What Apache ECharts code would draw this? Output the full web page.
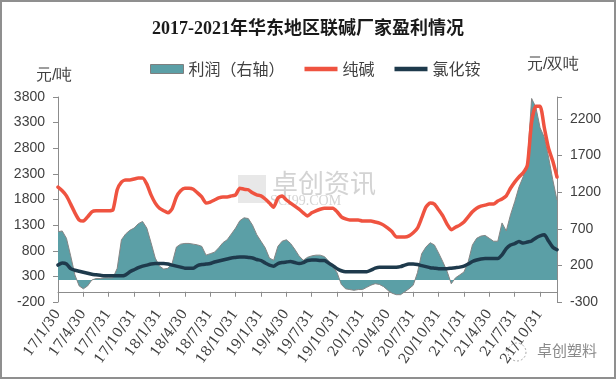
<!DOCTYPE html>
<html>
<head>
<meta charset="utf-8">
<script src="https://cdn.jsdelivr.net/npm/echarts@6/dist/echarts.min.js"></script>
<style>
html,body{margin:0;padding:0;background:#fff;}
#c{width:616px;height:379px;}
</style>
</head>
<body>
<div id="c"></div>
<script>
const categories = [
'17/1/30','17/2/15','17/2/28','17/3/15','17/3/31','17/4/15','17/4/30','17/5/15','17/5/31','17/6/15','17/6/30','17/7/15','17/7/31','17/8/15','17/8/31','17/9/15','17/9/30','17/10/15','17/10/31','17/11/15','17/11/30','17/12/15','17/12/31',
'18/1/15','18/1/31','18/2/15','18/2/28','18/3/15','18/3/31','18/4/15','18/4/30','18/5/15','18/5/31','18/6/15','18/6/30','18/7/15','18/7/31','18/8/15','18/8/31','18/9/15','18/9/30','18/10/15','18/10/31','18/11/15','18/11/30','18/12/15','18/12/31',
'19/1/15','19/1/31','19/2/15','19/2/28','19/3/15','19/3/31','19/4/15','19/4/30','19/5/15','19/5/31','19/6/15','19/6/30','19/7/15','19/7/31','19/8/15','19/8/31','19/9/15','19/9/30','19/10/15','19/10/31','19/11/15','19/11/30','19/12/15','19/12/31',
'20/1/15','20/1/31','20/2/15','20/2/29','20/3/15','20/3/31','20/4/15','20/4/30','20/5/15','20/5/31','20/6/15','20/6/30','20/7/15','20/7/31','20/8/15','20/8/31','20/9/15','20/9/30','20/10/15','20/10/31','20/11/15','20/11/30','20/12/15','20/12/31',
'21/1/15','21/1/31','21/2/15','21/2/28','21/3/15','21/3/31','21/4/15','21/4/30','21/5/15','21/5/31','21/6/15','21/6/30','21/7/15','21/7/31','21/8/15','21/8/31','21/9/15','21/9/30','21/10/15','21/10/31','21/11/15','21/11/30','21/12/15','21/12/31'
];

const tickLabels = ['17/1/30','17/4/30','17/7/31','17/10/31','18/1/31','18/4/30','18/7/31','18/10/31','19/1/31','19/4/30','19/7/31','19/10/31','20/1/31','20/4/30','20/7/31','20/10/31','21/1/31','21/4/30','21/7/31','21/10/31'];

// 利润（右轴） 元/双吨
const profit = [
660,670,570,330,70,-80,-120,-80,0,20,20,30,30,30,
160,550,630,680,710,770,800,710,510,300,190,150,160,230,
450,490,500,500,490,480,460,340,360,380,440,510,550,630,
710,810,850,840,750,620,530,440,300,270,460,530,550,500,
420,330,270,310,330,340,340,320,260,180,100,-60,-120,-130,
-140,-130,-130,-100,-70,-50,-60,-90,-140,-180,-200,-200,-160,-120,
-70,100,360,450,510,480,370,250,120,-50,30,70,110,250,
480,570,600,610,570,530,530,780,670,890,1070,1270,1410,1610,
2480,2360,2080,1950,1680,1370,1090
];

// 纯碱 元/吨
const soda = [
2040,1970,1870,1710,1540,1400,1380,1460,1560,1580,1580,1580,1580,1600,
1990,2140,2180,2180,2200,2220,2220,2100,1890,1730,1630,1580,1540,1620,
1850,1970,2020,2020,2000,1930,1850,1730,1750,1790,1830,1850,1850,1870,
1890,2020,2000,1990,1930,1890,1870,1810,1730,1650,1830,1870,1790,1730,
1670,1610,1540,1480,1540,1580,1610,1630,1630,1630,1560,1460,1420,1400,
1400,1400,1380,1380,1380,1360,1340,1300,1240,1170,1070,1070,1070,1090,
1150,1240,1440,1650,1730,1710,1600,1480,1320,1210,1260,1300,1360,1460,
1560,1630,1670,1690,1710,1710,1770,1810,1870,2020,2140,2240,2320,2470,
3310,3620,3620,3200,2800,2550,2240
];

// 氯化铵 元/吨
const chloride = [
520,560,540,450,420,400,380,360,340,330,320,310,310,310,
310,310,330,390,430,470,500,520,540,550,550,550,540,520,
500,480,460,460,460,510,530,540,550,580,600,620,640,660,
670,680,680,670,660,630,610,560,520,500,550,570,580,590,
570,550,570,610,620,620,610,610,560,510,450,410,390,390,
390,390,390,390,420,460,480,480,480,480,480,490,520,540,
540,530,510,490,470,460,450,450,450,460,470,480,500,540,
590,620,640,650,650,650,650,720,840,910,940,980,950,970,
990,1050,1090,1110,990,870,820
];

const tickSet = new Set(tickLabels);
const showTick = (i, v) => tickSet.has(v);
const axisGray = '#8c8c8c';
const txt = '#404040';
const cjk = '"Noto Sans CJK SC", sans-serif';

const chart = echarts.init(document.getElementById('c'), null, {renderer: 'canvas'});
chart.setOption({
  animation: false,
  backgroundColor: '#ffffff',
  title: {
    text: '2017-2021年华东地区联碱厂家盈利情况',
    left: 'center',
    top: 15,
    textStyle: {fontSize: 18, fontWeight: 'bold', color: '#1a1a1a', fontFamily: '"Liberation Serif", "Noto Sans CJK SC", serif'}
  },
  legend: {
    left: 145,
    top: 56,
    itemGap: 20,
    itemWidth: 33,
    itemHeight: 9,
    textStyle: {fontSize: 16, color: txt, fontFamily: cjk},
    data: [
      {name: '利润（右轴）', icon: 'rect', itemStyle: {color: '#5b9fa6', borderColor: '#7f7f7f', borderWidth: 1}},
      {name: '纯碱', icon: 'path://M0,0 L33,0 L33,4.5 L0,4.5 Z', itemStyle: {color: '#ef5340', borderWidth: 0}},
      {name: '氯化铵', icon: 'path://M0,0 L33,0 L33,4.5 L0,4.5 Z', itemStyle: {color: '#1e3a4c', borderWidth: 0}}
    ]
  },
  grid: {left: 58, right: 59, top: 97, bottom: 77, containLabel: false},
  xAxis: {
    type: 'category',
    data: categories,
    boundaryGap: false,
    axisLine: {onZero: true, onZeroAxisIndex: 0, lineStyle: {color: axisGray, width: 1}},
    axisTick: {show: true, interval: showTick, length: 5, lineStyle: {color: axisGray}},
    axisLabel: {interval: showTick, rotate: 55, margin: 9, fontSize: 14, color: txt, fontFamily: '"DejaVu Serif", serif'},
    splitLine: {show: false}
  },
  yAxis: [
    {
      type: 'value', position: 'left', min: -200, max: 3800, interval: 500,
      axisLine: {show: true, lineStyle: {color: axisGray}},
      axisTick: {show: true, length: 5, lineStyle: {color: axisGray}},
      axisLabel: {fontSize: 14, color: txt, margin: 13, fontFamily: '"Liberation Sans", Arial, sans-serif',
        formatter: v => String(v)},
      splitLine: {show: false}
    },
    {
      type: 'value', position: 'right', min: -300, max: 2500, interval: 500,
      axisLine: {show: true, lineStyle: {color: axisGray}},
      axisTick: {show: true, length: 5, lineStyle: {color: axisGray}},
      axisLabel: {fontSize: 14, color: txt, margin: 13, fontFamily: '"Liberation Sans", Arial, sans-serif',
        formatter: v => (v === 2500 ? '' : String(v))},
      splitLine: {show: false}
    }
  ],
  graphic: [
    {type: 'rect', shape: {x: 1, y: 1, width: 614, height: 377}, style: {fill: 'none', stroke: '#8f8f8f', lineWidth: 2}, silent: true, z: 100},
    {type: 'text', left: 36, top: 68, style: {text: '元/吨', fontSize: 16, fill: txt, font: '16px "Noto Sans CJK SC"'}},
    {type: 'text', left: 527, top: 57, style: {text: '元/双吨', fontSize: 16, fill: txt, font: '16px "Noto Sans CJK SC"'}},
    {type: 'rect', shape: {x: 238, y: 175, width: 28, height: 28}, style: {fill: 'rgba(190,190,190,0.35)'}, silent: true, z: -1},
    {type: 'text', left: 272, top: 170, z: -1, style: {text: '卓创资讯', font: '26px "Noto Sans CJK SC"', fill: 'rgba(175,175,175,0.55)'}},
    {type: 'text', left: 270, top: 194, z: -1, style: {text: 'SCI99.COM', font: '14px "Liberation Serif"', fill: 'rgba(175,175,175,0.55)'}},
    {type: 'circle', shape: {cx: 517, cy: 352, r: 9}, style: {fill: 'none', stroke: '#aaaaaa', lineWidth: 1, lineDash: [2, 2]}},
    {type: 'text', left: 537, top: 343, style: {text: '卓创塑料', font: '15px "Noto Sans CJK SC"', fill: '#8a8a8a'}}
  ],
  series: [
    {
      name: '利润（右轴）', type: 'line', yAxisIndex: 1, data: profit,
      symbol: 'none', z: 1,
      itemStyle: {color: '#5b9fa6'},
      lineStyle: {color: '#858585', width: 1},
      areaStyle: {color: '#5b9fa6', opacity: 1}
    },
    {
      name: '纯碱', type: 'line', yAxisIndex: 0, data: soda,
      symbol: 'none', smooth: 0.2, z: 3,
      itemStyle: {color: '#ef5340'},
      lineStyle: {color: '#ef5340', width: 3.5, cap: 'round', join: 'round'}
    },
    {
      name: '氯化铵', type: 'line', yAxisIndex: 0, data: chloride,
      symbol: 'none', smooth: 0.2, z: 4,
      itemStyle: {color: '#1e3a4c'},
      lineStyle: {color: '#1e3a4c', width: 3.5, cap: 'round', join: 'round'}
    }
  ]
});
</script>
</body>
</html>
